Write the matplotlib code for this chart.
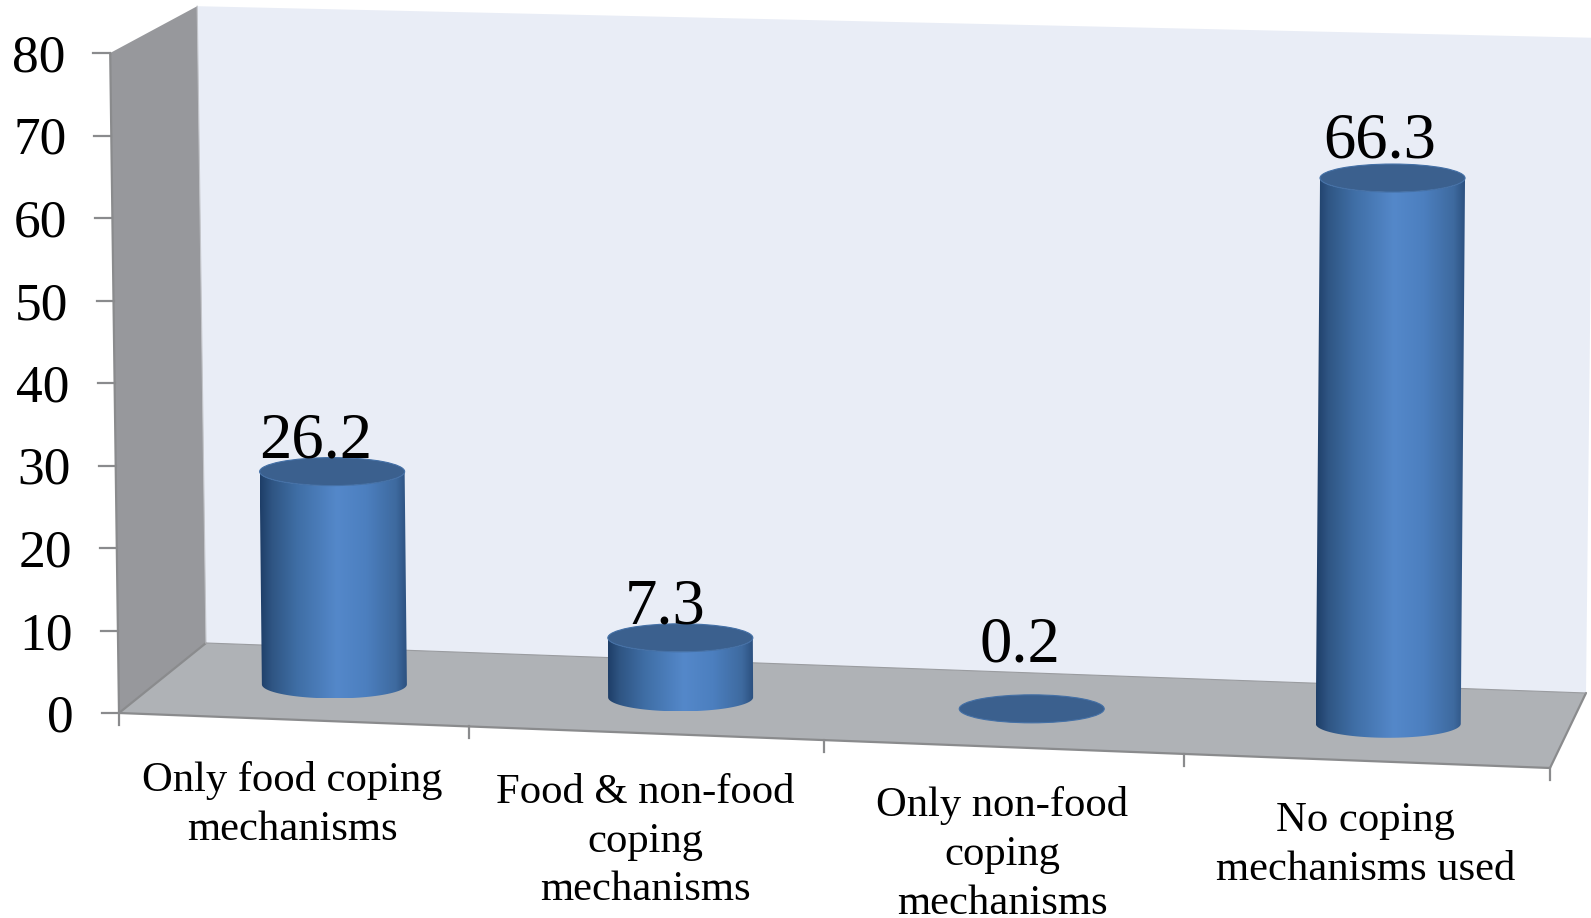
import numpy as np
import matplotlib
matplotlib.use("Agg")
import matplotlib.pyplot as plt
from matplotlib.colors import LinearSegmentedColormap
from matplotlib.patches import Ellipse, PathPatch, Polygon
from matplotlib.path import Path

categories = [
    "Only food coping\nmechanisms",
    "Food & non-food\ncoping\nmechanisms",
    "Only non-food\ncoping\nmechanisms",
    "No coping\nmechanisms used",
]
values = [26.2, 7.3, 0.2, 66.3]
value_labels = ["26.2", "7.3", "0.2", "66.3"]
y_ticks = [0, 10, 20, 30, 40, 50, 60, 70, 80]

# hand placed 3D box, pixels of the output image
tick_x = [119, 469, 824, 1184, 1550]
front_y = [713, 768]
depth_left = (87, -70)
depth_right = (36, -75)
# px per unit at front-left, front-right, back-left, back-right
unit_px = [8.25, 8.31, 7.96, 8.19]
# horizontal lean per unit of height at left / right of the box
lean = [-0.11, 0.09]

radius = 72.5
ellipse_b = 14
label_gap = [0, 0, 33, 7]
label_shift = [-16, -15, -12, -13]
name_drop = [41, 40, 39, 41]

plt.rcParams["font.family"] = ["Liberation Serif", "DejaVu Serif"]

W, H = 1591, 918
fig = plt.figure(figsize=(W / 100, H / 100), dpi=100)
ax = fig.add_axes([0, 0, 1, 1])
ax.axis("off")


def project(u, v=0.0, value=0.0):
    # u is 0..4 along the category axis, v is 0..1 front to back
    x = np.interp(u, range(5), tick_x)
    s = (x - tick_x[0]) / (tick_x[-1] - tick_x[0])
    y = front_y[0] + s * (front_y[1] - front_y[0])
    x += v * (depth_left[0] + s * (depth_right[0] - depth_left[0]))
    y += v * (depth_left[1] + s * (depth_right[1] - depth_left[1]))
    front = unit_px[0] + s * (unit_px[1] - unit_px[0])
    back = unit_px[2] + s * (unit_px[3] - unit_px[2])
    k = front + v * (back - front)
    x += value * (lean[0] + s * (lean[1] - lean[0]))
    return x, y - value * k


wall_c = "#E9EDF6"
side_c = "#97989C"
floor_c = "#AFB2B6"
edge_c = "#8A8B8D"

back = [project(0, 1, 0), project(4, 1, 0), project(4, 1, 80), project(0, 1, 80)]
side = [project(0, 0, 0), project(0, 1, 0), project(0, 1, 80), project(0, 0, 80)]
floor = [project(0, 0, 0), project(4, 0, 0), project(4, 1, 0), project(0, 1, 0)]
ax.add_patch(Polygon(back, fc=wall_c, ec="none", zorder=1))
ax.add_patch(Polygon(side, fc=side_c, ec="none", zorder=2))
ax.add_patch(Polygon(floor, fc=floor_c, ec="none", zorder=2))

# box edges
for a, b in [(side[0], side[3]), (side[0], side[1]), (floor[0], floor[1]), (floor[1], floor[2])]:
    ax.plot([a[0], b[0]], [a[1], b[1]], color=edge_c, lw=1.6, zorder=3, solid_capstyle="round")
ax.plot([floor[2][0], floor[3][0]], [floor[2][1], floor[3][1]], color="#9A9CA0", lw=0.8, zorder=3)
ax.plot([side[1][0], side[2][0]], [side[1][1], side[2][1]], color="#C3C5CA", lw=0.8, zorder=3)

# ticks and labels
for t in y_ticks:
    x, y = project(0, 0, t)
    ax.plot([x - 17, x], [y, y], color=edge_c, lw=1.6, zorder=3)
    ax.text(x - 45, y, str(t), ha="right", va="center_baseline", fontsize=38.5, color="black")

for i in range(5):
    x, y = project(i)
    ax.plot([x, x], [y, y + 12], color=edge_c, lw=1.6, zorder=3)

for i, name in enumerate(categories):
    x, y = project(i + 0.5)
    ax.text(x - 1.5, y + name_drop[i], name, ha="center", va="top", fontsize=30.7, linespacing=1.35, color="black")

# cylinders
body_cmap = LinearSegmentedColormap.from_list(
    "cyl",
    [(0, "#1E3E68"), (0.08, "#2F5583"), (0.25, "#3F6EA5"), (0.52, "#5488CA"),
     (0.72, "#4C7FBF"), (0.92, "#3E6A9F"), (1, "#2B4F7E")],
)
grad = np.linspace(0, 1, 256).reshape(1, -1)

for i, val in enumerate(values):
    bx, by = project(i + 0.5, 0.5, 0)
    tx, ty = project(i + 0.5, 0.5, val)
    ang = np.linspace(0, np.pi, 60)
    bottom = np.column_stack([bx + radius * np.cos(ang), by + ellipse_b * np.sin(ang)])
    top = np.column_stack([tx - radius * np.cos(ang), ty + ellipse_b * np.sin(ang)])
    if val >= 1:
        pts = np.vstack([bottom, top, bottom[:1]])
        codes = [Path.MOVETO] + [Path.LINETO] * (len(pts) - 2) + [Path.CLOSEPOLY]
        shape = PathPatch(Path(pts, codes), fc="none", ec="none", zorder=4)
        ax.add_patch(shape)
        im = ax.imshow(grad, cmap=body_cmap, aspect="auto", zorder=4,
                       extent=[min(bx, tx) - radius, max(bx, tx) + radius, by + ellipse_b, ty])
        im.set_clip_path(shape)
    ax.add_patch(Ellipse((tx, ty), 2 * radius, 2 * ellipse_b, fc="#3B608E", ec="#4470A6", lw=0.8, zorder=5))
    ax.text(tx + label_shift[i], ty - ellipse_b - label_gap[i], value_labels[i],
            ha="center", va="baseline", fontsize=46.5, color="black", zorder=6)

ax.set_xlim(0, W)
ax.set_ylim(H, 0)
fig.savefig("out.png", dpi=100, facecolor="white")
